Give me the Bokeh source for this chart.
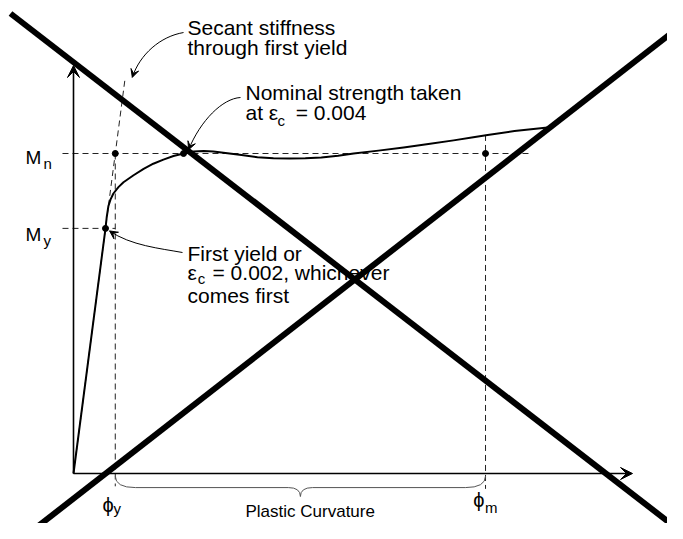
from bokeh.plotting import figure
from bokeh.models import Range1d, Arrow, VeeHead
from bokeh.core.properties import value
from bokeh.embed import file_html
from bokeh.resources import INLINE

FONT = value("Liberation Sans")

# ---- moment-curvature response (curvature ~ units of phi_y, moment in units of M_n)
curvature = [0.0, 0.762, 0.79, 0.83, 0.88, 0.95, 1.07, 1.19, 1.43, 1.67, 1.90, 2.14,
             2.38, 2.62, 2.86, 3.10, 3.33, 3.57, 4.00, 4.38, 4.76, 5.14, 5.52, 5.90,
             6.30, 6.67, 7.26, 7.86, 8.45, 9.05, 9.52, 9.86, 10.50, 11.29]
moment = [0.0, 0.766, 0.80, 0.835, 0.856, 0.875, 0.895, 0.91, 0.932, 0.952, 0.968, 0.981,
          0.992, 1.0, 1.006, 1.008, 1.006, 1.002, 0.995, 0.9885, 0.985, 0.984, 0.985, 0.9875,
          0.993, 1.0, 1.009, 1.019, 1.03, 1.041, 1.051, 1.058, 1.07, 1.081]

phi_first_yield = 0.762   # curvature at first yield
M_y = 0.766               # first-yield moment
M_n = 1.0                 # nominal strength
phi_n = 2.62              # curvature where nominal strength is reached
phi_m = 9.81              # maximum curvature
M_at_phi_m = 1.058
phi_y = phi_first_yield * M_n / M_y   # secant stiffness through first yield

x_axis_end = 13.31
y_axis_end = 1.275
secant_top = 1.228
ref_left = -0.262
mn_line_end = 10.85
below_axis = -0.04

# cross-out lines drawn over the figure
cross_x = [[-1.5, 14.524], [-1.19, 14.524]]
cross_y = [[1.4375, -0.1875], [-0.2, 1.406]]

W, H = 667, 523
p = figure(width=W, height=H, x_range=Range1d(-73 / 42, (W - 73) / 42),
           y_range=Range1d((473 - H) / 320, 473 / 320), output_backend="svg",
           toolbar_location=None, x_axis_location=None, y_axis_location=None,
           min_border=0)
p.grid.visible = False
p.outline_line_color = None
p.background_fill_color = "white"

DASH = "6 4"
DC = "#222222"

# dashed reference lines
p.line([ref_left, mn_line_end], [M_n, M_n], line_dash=DASH, line_color=DC, line_width=1)
p.line([ref_left, phi_y], [M_y, M_y], line_dash=DASH, line_color=DC, line_width=1)
p.line([phi_y, phi_y], [M_n, below_axis], line_dash=DASH, line_color=DC, line_width=1)
p.line([phi_m, phi_m], [M_at_phi_m, below_axis * 1.2], line_dash=DASH, line_color=DC, line_width=1)
p.line([0, phi_first_yield * secant_top / M_y], [0, secant_top], line_dash=DASH,
       line_color=DC, line_width=1)

# axes with arrowheads
p.add_layout(Arrow(end=VeeHead(size=12, fill_color="black", line_color="black"),
                   x_start=0, y_start=0, x_end=0, y_end=y_axis_end, line_width=1.6))
p.add_layout(Arrow(end=VeeHead(size=12, fill_color="black", line_color="black"),
                   x_start=0, y_start=0, x_end=x_axis_end, y_end=0, line_width=1.6))

# the response curve
p.line(curvature, moment, line_color="black", line_width=2, line_join="round")

# key points
p.scatter([phi_first_yield, phi_y, phi_n, phi_m], [M_y, M_n, M_n, M_n], size=6,
          color="black")

# brace under the plastic curvature range
r = 0.48
yb0, yb1, yb2 = -0.008, -0.044, -0.072
mid = (phi_y + phi_m) / 2
BC = "#555555"
p.quadratic(x0=[phi_y, mid - r * 0.6, phi_m, mid + r * 0.6],
            y0=[yb0, yb1, yb0, yb1],
            x1=[phi_y + r, mid, phi_m - r, mid],
            y1=[yb1, yb2, yb1, yb2],
            cx=[phi_y, mid, phi_m, mid],
            cy=[yb1, yb1, yb1, yb1], line_color=BC, line_width=1)
p.segment(x0=[phi_y + r, mid + r * 0.6], y0=[yb1, yb1], x1=[mid - r * 0.6, phi_m - r],
          y1=[yb1, yb1], line_color=BC, line_width=1)

# annotation leader curves with arrowheads
leaders = [
    # start, ctrl1, ctrl2, end
    ((2.62, 1.378), (2.07, 1.366), (1.58, 1.31), (1.40, 1.238)),
    ((3.976, 1.175), (3.548, 1.172), (3.024, 1.103), (2.74, 1.012)),
    ((2.595, 0.6906), (2.071, 0.7031), (1.357, 0.7125), (0.86, 0.758)),
]
for s, c1, c2, e in leaders:
    p.bezier(x0=[s[0]], y0=[s[1]], x1=[e[0]], y1=[e[1]], cx0=[c1[0]], cy0=[c1[1]],
             cx1=[c2[0]], cy1=[c2[1]], line_color="black", line_width=1)
    t = 0.15
    p.add_layout(Arrow(end=VeeHead(size=8, fill_color="black", line_color="black"),
                       x_start=e[0] + t * (c2[0] - e[0]), y_start=e[1] + t * (c2[1] - e[1]),
                       x_end=e[0], y_end=e[1], line_width=1))


def label(x, y, s, size, align="left"):
    p.text(x=[x], y=[y], text=[s], text_font=FONT, text_font_size=size,
           text_baseline="alphabetic", text_align=align, text_color="black")


BIG = "21px"
SUB = "15px"
label(2.714, 1.394, "Secant stiffness", BIG)
label(2.714, 1.331, "through first yield", BIG)
label(4.095, 1.191, "Nominal strength taken", BIG)
label(4.095, 1.128, "at ε", BIG)
label(4.86, 1.103, "c", SUB)
label(5.29, 1.128, "= 0.004", BIG)
label(2.714, 0.6875, "First yield or", BIG)
label(2.714, 0.628, "ε", BIG)
label(2.96, 0.609, "c", SUB)
label(3.31, 0.628, "= 0.002, whichever", BIG)
label(2.714, 0.556, "comes first", BIG)

# axis symbols
label(-1.143, 0.9875, "M", "19px")
label(-0.714, 0.969, "n", SUB)
label(-1.143, 0.747, "M", "19px")
label(-0.714, 0.728, "y", SUB)
label(0.69, -0.097, "ϕ", "20px")
label(0.95, -0.109, "y", SUB)
label(9.52, -0.084, "ϕ", "20px")
label(9.80, -0.106, "m", SUB)
label(4.095, -0.118, "Plastic Curvature", "17px")

# cross-out
p.multi_line(cross_x, cross_y, line_color="black", line_width=6)

open("out.html", "w").write(file_html(p, INLINE))
